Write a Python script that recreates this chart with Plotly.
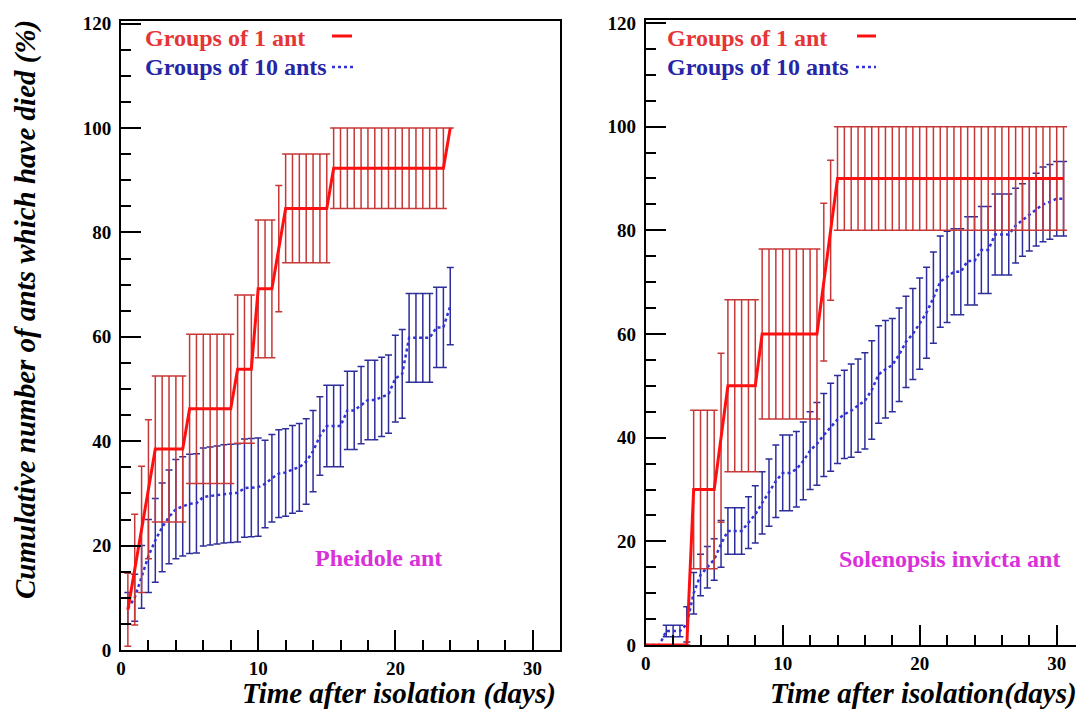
import plotly.graph_objects as go

# ---------------- data ----------------
# Left panel: Pheidole ant
left_days = [0.5, 1, 1.5, 2, 2.5, 3, 3.5, 4, 4.5, 5, 5.5, 6, 6.5, 7, 7.5, 8,
             8.5, 9, 9.5, 10, 10.5, 11, 11.5, 12, 12.5, 13, 13.5, 14, 14.5, 15,
             15.5, 16, 16.5, 17, 17.5, 18, 18.5, 19, 19.5, 20, 20.5, 21, 21.5,
             22, 22.5, 23, 23.5, 24]
left_one_ant = [7.7, 15.4, 23.1, 30.8, 38.5, 38.5, 38.5, 38.5, 38.5, 46.2, 46.2,
                46.2, 46.2, 46.2, 46.2, 46.2, 53.8, 53.8, 53.8, 69.2, 69.2, 69.2,
                76.9, 84.6, 84.6, 84.6, 84.6, 84.6, 84.6, 84.6, 92.3, 92.3, 92.3,
                92.3, 92.3, 92.3, 92.3, 92.3, 92.3, 92.3, 92.3, 92.3, 92.3, 92.3,
                92.3, 92.3, 92.3, 100.0]
left_one_ant_err = [7.0, 10.6, 12.1, 13.3, 14.0, 14.0, 14.0, 14.0, 14.0, 14.3, 14.3,
                    14.3, 14.3, 14.3, 14.3, 14.3, 14.2, 14.2, 14.2, 13.2, 13.2, 13.2,
                    12.1, 10.4, 10.4, 10.4, 10.4, 10.4, 10.4, 10.4, 7.7, 7.7, 7.7,
                    7.7, 7.7, 7.7, 7.7, 7.7, 7.7, 7.7, 7.7, 7.7, 7.7, 7.7, 7.7, 7.7,
                    7.7, 0.0]
left_ten_ants = [8.0, 10.0, 14.0, 18.0, 21.0, 23.5, 25.5, 27.0, 27.5, 28.0, 28.1,
                 29.3, 29.5, 29.7, 29.9, 30.0, 30.1, 31.0, 31.1, 31.2, 31.8, 32.9,
                 33.8, 34.0, 34.6, 35.0, 36.1, 38.1, 41.0, 42.9, 42.9, 42.9, 45.9,
                 45.9, 46.9, 47.9, 47.9, 48.5, 49.0, 52.0, 52.9, 59.8, 59.8, 59.8,
                 59.8, 61.8, 61.8, 65.9]
left_ten_ants_err = [3.0, 4.5, 6.0, 7.0, 8.0, 8.5, 9.0, 9.5, 9.5, 9.5, 9.5, 9.4,
                     9.4, 9.4, 9.4, 9.4, 9.4, 9.4, 9.4, 9.4, 8.4, 8.4, 8.4, 8.4,
                     8.4, 8.4, 8.2, 7.8, 7.5, 7.8, 7.8, 7.8, 7.5, 7.5, 7.4, 7.6,
                     7.6, 7.6, 7.5, 8.3, 8.5, 8.5, 8.5, 8.5, 8.5, 7.7, 7.7, 7.4]

# Right panel: Solenopsis invicta ant
right_days = [0, 0.5, 1, 1.5, 2, 2.5, 3, 3.5, 4, 4.5, 5, 5.5, 6, 6.5, 7, 7.5, 8,
              8.5, 9, 9.5, 10, 10.5, 11, 11.5, 12, 12.5, 13, 13.5, 14, 14.5, 15,
              15.5, 16, 16.5, 17, 17.5, 18, 18.5, 19, 19.5, 20, 20.5, 21, 21.5,
              22, 22.5, 23, 23.5, 24, 24.5, 25, 25.5, 26, 26.5, 27, 27.5, 28,
              28.5, 29, 29.5, 30, 30.5]
right_one_ant = [0, 0, 0, 0, 0, 0, 0, 30, 30, 30, 30, 40, 50, 50, 50, 50, 50,
                 60, 60, 60, 60, 60, 60, 60, 60, 60, 70, 80, 90, 90, 90, 90, 90,
                 90, 90, 90, 90, 90, 90, 90, 90, 90, 90, 90, 90, 90, 90, 90, 90,
                 90, 90, 90, 90, 90, 90, 90, 90, 90, 90, 90, 90, 90]
right_one_ant_err = [0, 0, 0, 0, 0, 0, 0, 15.3, 15.3, 15.3, 15.3, 16.3, 16.6, 16.6,
                     16.6, 16.6, 16.6, 16.4, 16.4, 16.4, 16.4, 16.4, 16.4, 16.4,
                     16.4, 16.4, 15.2, 13.5, 10, 10, 10, 10, 10, 10, 10, 10, 10, 10,
                     10, 10, 10, 10, 10, 10, 10, 10, 10, 10, 10, 10, 10, 10, 10, 10,
                     10, 10, 10, 10, 10, 10, 10, 10]
right_ten_ants = [0, 0, 0, 2.7, 2.7, 2.7, 4.0, 10.0, 13.5, 15.0, 16.5, 19.5, 22.0,
                  22.0, 22.0, 23.6, 25.2, 27.4, 29.4, 31.6, 33.2, 33.2, 33.9, 35.5,
                  37.5, 38.8, 40.5, 42.0, 43.5, 44.5, 45.2, 46.2, 47.1, 49.2, 52.2,
                  53.2, 54.0, 56.0, 58.5, 60.0, 62.0, 64.1, 67.0, 70.1, 71.0, 72.0,
                  72.0, 74.1, 74.1, 76.2, 76.2, 79.2, 79.2, 79.2, 80.9, 82.0, 83.0,
                  84.0, 85.0, 85.5, 86.1, 86.1]
right_ten_ants_err = [0, 0, 0, 1.1, 1.1, 1.1, 3.4, 4, 4, 4, 4, 4.5, 4.5, 4.5, 4.5,
                      5, 5.5, 6, 6.5, 7, 7.3, 7.3, 7.3, 7.5, 7.5, 8, 8, 8.5, 8.5,
                      8.5, 9, 9, 9.3, 9.5, 9.4, 9.4, 9, 9, 8.8, 8.8, 8.8, 8.8, 8.8,
                      8.8, 8.8, 8.3, 8.3, 8.5, 8.5, 8.4, 8.4, 7.8, 7.8, 7.8, 7.2, 7,
                      7, 7, 7.2, 7.2, 7.2, 7.2]

x_ticks = [0, 10, 20, 30]
y_ticks = [0, 20, 40, 60, 80, 100, 120]
legend_labels = ["Groups of 1 ant", "Groups of 10 ants"]
panel_labels = ["Pheidole ant", "Solenopsis invicta ant"]
x_titles = ["Time after isolation (days)", "Time after isolation(days)"]
y_title = "Cumulative number of ants which have died (%)"

# ---------------- style ----------------
W, H = 1084, 709
OFF = 8  # page body margin
SERIF = "Liberation Serif, Times New Roman, serif"
RED_LINE = "#ff1010"
RED_ERR = "rgb(200,55,55)"
BLUE_LINE = "rgb(50,50,215)"
BLUE_ERR = "rgb(45,45,155)"
MAGENTA = "#d930d9"


def fx(p):
    return (p - OFF) / W


def fy(p):
    return 1 - (p - OFF) / H


fig = go.Figure()


def add_panel(xa, ya, days, red, red_err, blue, blue_err):
    fig.add_trace(go.Scatter(
        x=days, y=blue, xaxis=xa, yaxis=ya, mode="lines",
        line=dict(color=BLUE_LINE, width=2.5, dash="dot"),
        error_y=dict(type="data", array=blue_err, visible=True,
                     color=BLUE_ERR, thickness=1.5, width=3.5),
        showlegend=False, hoverinfo="skip"))
    fig.add_trace(go.Scatter(
        x=days, y=red, xaxis=xa, yaxis=ya, mode="lines",
        line=dict(color=RED_LINE, width=3),
        error_y=dict(type="data", array=red_err, visible=True,
                     color=RED_ERR, thickness=1.5, width=3.5),
        showlegend=False, hoverinfo="skip"))


add_panel("x", "y", left_days, left_one_ant, left_one_ant_err,
          left_ten_ants, left_ten_ants_err)
add_panel("x2", "y2", right_days, right_one_ant, right_one_ant_err,
          right_ten_ants, right_ten_ants_err)

tickfont = dict(family=SERIF, size=19, color="black", weight="bold")


def xaxis(domain, rng, anchor):
    return dict(domain=domain, range=rng, anchor=anchor, tickvals=x_ticks,
                ticks="inside", ticklen=20, tickwidth=2, tickcolor="black",
                minor=dict(ticks="inside", ticklen=10, tickwidth=1.5,
                           tickcolor="black", dtick=2, tick0=0, showgrid=False),
                showline=True, linewidth=2, linecolor="black", mirror=True,
                showgrid=False, zeroline=False, tickfont=tickfont,
                ticklabelstandoff=0, automargin=False)


def yaxis(domain, anchor):
    return dict(domain=domain, range=[0, 120.5], anchor=anchor, tickvals=y_ticks,
                ticks="inside", ticklen=20, tickwidth=2, tickcolor="black",
                minor=dict(ticks="inside", ticklen=10, tickwidth=1.5,
                           tickcolor="black", dtick=5, tick0=0, showgrid=False),
                showline=True, linewidth=2, linecolor="black", mirror=True,
                showgrid=False, zeroline=False, tickfont=tickfont,
                ticklabelstandoff=4, automargin=False)


fig.update_layout(
    template="none",
    width=W, height=H, autosize=False,
    margin=dict(l=0, r=0, t=0, b=0, pad=0),
    paper_bgcolor="white", plot_bgcolor="white",
    showlegend=False,
    xaxis=xaxis([fx(121), fx(560)], [0, 32], "y"),
    yaxis=yaxis([fy(650), fy(21)], "x"),
    xaxis2=xaxis([fx(645.7), fx(1080)], [0, 31.7], "y2"),
    yaxis2=yaxis([fy(645), fy(20.4)], "x2"),
)

ann = []
# y-axis title
ann.append(dict(x=fx(25), y=fy(310), xref="paper", yref="paper",
                text="<b><i>" + y_title + "</i></b>", textangle=-90,
                showarrow=False, font=dict(family=SERIF, size=29, color="black"),
                xanchor="center", yanchor="middle"))
# x-axis titles
for xr, t in zip([558, 1079], x_titles):
    ann.append(dict(x=fx(xr), y=fy(693), xref="paper", yref="paper",
                    text="<b><i>" + t + "</i></b>", showarrow=False,
                    font=dict(family=SERIF, size=29, color="black"),
                    xanchor="right", yanchor="middle"))
# legends
for xl in [143, 665]:
    ann.append(dict(x=fx(xl), y=fy(38), xref="paper", yref="paper",
                    text="<b>" + legend_labels[0] + "</b>", showarrow=False,
                    font=dict(family=SERIF, size=24, color="#e53535"),
                    xanchor="left", yanchor="middle"))
    ann.append(dict(x=fx(xl), y=fy(67), xref="paper", yref="paper",
                    text="<b>" + legend_labels[1] + "</b>", showarrow=False,
                    font=dict(family=SERIF, size=24, color="#2626a6"),
                    xanchor="left", yanchor="middle"))
# panel labels
for (xc, yc), t in zip([(378, 558), (949, 559)], panel_labels):
    ann.append(dict(x=fx(xc), y=fy(yc), xref="paper", yref="paper",
                    text="<b>" + t + "</b>", showarrow=False,
                    font=dict(family=SERIF, size=24, color=MAGENTA),
                    xanchor="center", yanchor="middle"))
fig.update_layout(annotations=ann)

shapes = []
for x0, x1 in [(332, 352), (857, 876)]:
    shapes.append(dict(type="line", xref="paper", yref="paper",
                       x0=fx(x0), x1=fx(x1), y0=fy(36), y1=fy(36),
                       line=dict(color=RED_LINE, width=3)))
for x0, x1 in [(332, 353), (856, 876)]:
    shapes.append(dict(type="line", xref="paper", yref="paper",
                       x0=fx(x0), x1=fx(x1), y0=fy(67), y1=fy(67),
                       line=dict(color=BLUE_LINE, width=2.5, dash="dot")))
fig.update_layout(shapes=shapes)

fig.write_html("out.html")
